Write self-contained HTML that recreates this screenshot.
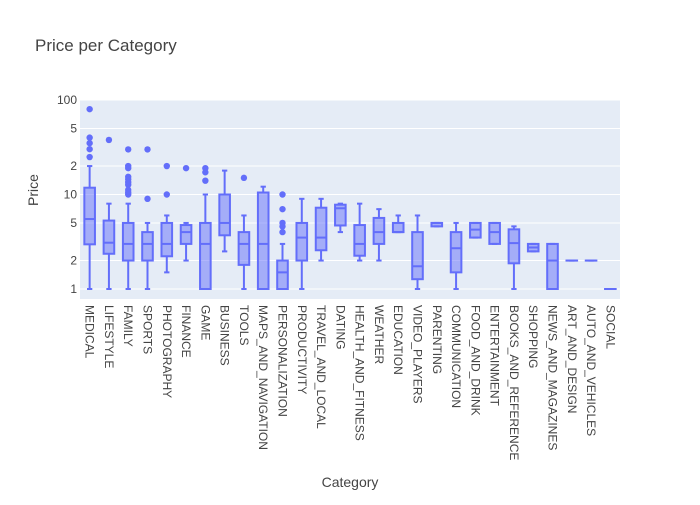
<!DOCTYPE html>
<html><head><meta charset="utf-8"><style>
body{margin:0;background:#fff;}
svg{font-family:"Liberation Sans",Arial,sans-serif;}
</style></head><body>
<svg id="chart" width="700" height="500" xmlns="http://www.w3.org/2000/svg">
<rect x="0" y="0" width="700" height="500" fill="#fff"/>
<rect x="80" y="100" width="540" height="199" fill="#e5ecf6"/>
<g id="grid"></g>
<g id="boxes"></g>
<g id="yticks"></g>
<g id="xticks"></g>
<text x="35" y="51" font-size="17" fill="#444">Price per Category</text>
<text x="350" y="487" font-size="14" fill="#444" text-anchor="middle">Category</text>
<text transform="translate(38,190) rotate(-90)" font-size="14" fill="#444" text-anchor="middle">Price</text>
</svg>
<script>
const categories=["MEDICAL","LIFESTYLE","FAMILY","SPORTS","PHOTOGRAPHY","FINANCE","GAME","BUSINESS","TOOLS","MAPS_AND_NAVIGATION","PERSONALIZATION","PRODUCTIVITY","TRAVEL_AND_LOCAL","DATING","HEALTH_AND_FITNESS","WEATHER","EDUCATION","VIDEO_PLAYERS","PARENTING","COMMUNICATION","FOOD_AND_DRINK","ENTERTAINMENT","BOOKS_AND_REFERENCE","SHOPPING","NEWS_AND_MAGAZINES","ART_AND_DESIGN","AUTO_AND_VEHICLES","SOCIAL"];
const lowerFence=[1,1,1,1,1.5,2,1,2.5,1,1,1,1,2,4,2,2,4,1,4.6,1,3.5,3,1,2.5,1,2,2,1];
const q1=[2.97,2.36,2,2,2.22,3,1,3.7,1.8,1,1,2,2.57,4.7,2.25,3,4,1.27,4.6,1.5,3.5,3,1.87,2.5,1,2,2,1];
const median=[5.5,3.09,3,3,3,4,3,5,3,3,1.5,3.5,3.5,7.15,3,4,4,1.74,5,2.7,4.25,4,3.06,2.75,2,2,2,1];
const q3=[11.8,5.3,5,4,5,4.75,5,10,4,10.5,2,5,7.25,7.8,4.75,5.65,5,4,5,4,5,5,4.28,3,3,2,2,1];
const upperFence=[20,8,8,5,6,5,10,17.9,6,12.1,3,9,9,8,8,7,6,6,5,5,5,5,4.6,3,3,2,2,1];
const outliers=[[80,40,35,30.2,24.9],[37.8],[30,20,19,15.4,14.5,13.5,12.7,11.2,10.5,10],[30,9],[20,10],[19],[19,17.2,14],[],[15],[],[10,7,5,4.6,4],[],[],[],[],[],[],[],[],[],[],[],[],[],[],[],[],[]];
const yTickValues=[1,2,5,10,20,50,100];
const yTickLabels=["1","2","5","10","2","5","100"];

const NS="http://www.w3.org/2000/svg";
const X0=80,W=540,STEP=W/categories.length;
function xScale(i){return X0+STEP*(i+0.5);}
function yScale(v){return 289-94.5*Math.log10(v);}
function mk(tag,attrs,parent){const e=document.createElementNS(NS,tag);for(const k in attrs)e.setAttribute(k,attrs[k]);parent.appendChild(e);return e;}
const grid=document.getElementById('grid'),boxes=document.getElementById('boxes'),yt=document.getElementById('yticks'),xt=document.getElementById('xticks');
yTickValues.forEach((v,i)=>{
  const y=yScale(v);
  const l=mk('line',{x1:X0,x2:X0+W,y1:y,y2:y,stroke:'#fff','stroke-width':1},grid);
  
  
  const t=mk('text',{x:77,y:y+4,'font-size':12,fill:'#444','text-anchor':'end'},yt);
  
  
  t.textContent=yTickLabels[i];
});
const C='#636efa',BW=10.6;
categories.forEach((c,i)=>{
  const cx=xScale(i);
  const g=mk('g',{},boxes);
  
  
  const yl=yScale(lowerFence[i]),yq1=yScale(q1[i]),ym=yScale(median[i]),yq3=yScale(q3[i]),yu=yScale(upperFence[i]);
  mk('line',{x1:cx,x2:cx,y1:yu,y2:yq3,stroke:C,'stroke-width':2},g);
  mk('line',{x1:cx,x2:cx,y1:yq1,y2:yl,stroke:C,'stroke-width':2},g);
  mk('line',{x1:cx-BW/4,x2:cx+BW/4,y1:yu,y2:yu,stroke:C,'stroke-width':2},g);
  mk('line',{x1:cx-BW/4,x2:cx+BW/4,y1:yl,y2:yl,stroke:C,'stroke-width':2},g);
  mk('rect',{x:cx-BW/2,y:yq3,width:BW,height:Math.max(yq1-yq3,0.01),fill:'rgba(99,110,250,0.5)',stroke:C,'stroke-width':2},g);
  mk('line',{x1:cx-BW/2,x2:cx+BW/2,y1:ym,y2:ym,stroke:C,'stroke-width':2},g);
  outliers[i].forEach(v=>{
    const p=mk('circle',{cx:cx,cy:yScale(v),r:3.2,fill:C},g);
    
    
  });
  const t=mk('text',{transform:`translate(${cx-4},305) rotate(90)`,'font-size':12,fill:'#444'},xt);
  
  
  t.textContent=c;
});
</script>
</body></html>
